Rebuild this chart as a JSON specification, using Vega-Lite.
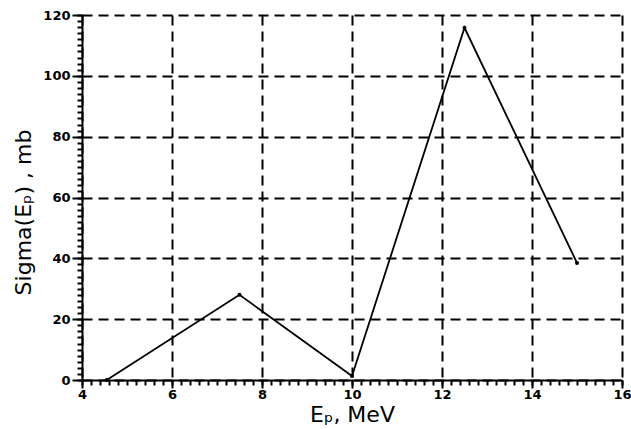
{
  "$schema": "https://vega.github.io/schema/vega-lite/v6.json",
  "width": 540,
  "height": 365,
  "autosize": {"type": "none"},
  "padding": {"left": 82, "top": 15, "right": 9, "bottom": 49},
  "background": "white",
  "config": {
    "view": {"stroke": null},
    "axis": {
      "labelFont": "DejaVu Sans",
      "labelFontWeight": "bold",
      "labelFontSize": 13,
      "labelColor": "black",
      "titleFont": "DejaVu Sans",
      "titleFontWeight": "normal",
      "titleFontSize": 22,
      "titleColor": "black",
      "domainColor": "black",
      "tickColor": "black",
      "gridColor": "black"
    }
  },
  "data": {
    "values": [
      {"E": 4.55, "sigma": 0},
      {"E": 7.5, "sigma": 28},
      {"E": 10, "sigma": 1.3},
      {"E": 12.5, "sigma": 115.8},
      {"E": 15, "sigma": 38.5}
    ]
  },
  "resolve": {"axis": {"x": "independent", "y": "independent"}},
  "layer": [
    {
      "mark": {"type": "line", "color": "black", "strokeWidth": 1.8},
      "encoding": {
        "x": {
          "field": "E", "type": "quantitative",
          "scale": {"domain": [4, 16], "nice": false, "zero": false},
          "axis": {
            "orient": "bottom",
            "values": [4, 6, 8, 10, 12, 14, 16],
            "title": "Eₚ, MeV",
            "titlePadding": 3,
            "tickSize": 8,
            "tickWidth": 2,
            "domainWidth": 2,
            "labelPadding": 0,
            "labelFlush": false,
            "labelOverlap": false,
            "grid": true,
            "gridDash": [10, 6],
            "gridWidth": 2
          }
        },
        "y": {
          "field": "sigma", "type": "quantitative",
          "scale": {"domain": [0, 120], "nice": false},
          "axis": {
            "orient": "left",
            "values": [0, 20, 40, 60, 80, 100, 120],
            "title": "Sigma(Eₚ) , mb",
            "titlePadding": 7,
            "titleY": 197,
            "tickSize": 10,
            "tickWidth": 2,
            "domainWidth": 2,
            "labelPadding": 2,
            "labelFlush": false,
            "labelOverlap": false,
            "grid": true,
            "gridDash": [10, 6],
            "gridWidth": 2
          }
        }
      }
    },
    {
      "mark": {"type": "point", "filled": true, "color": "black", "size": 16, "opacity": 1},
      "encoding": {
        "x": {
          "field": "E", "type": "quantitative",
          "axis": {
            "orient": "bottom",
            "values": [4, 4.2, 4.4, 4.6, 4.8, 5, 5.2, 5.4, 5.6, 5.8, 6, 6.2, 6.4, 6.6, 6.8, 7, 7.2, 7.4, 7.6, 7.8, 8, 8.2, 8.4, 8.6, 8.8, 9, 9.2, 9.4, 9.6, 9.8, 10, 10.2, 10.4, 10.6, 10.8, 11, 11.2, 11.4, 11.6, 11.8, 12, 12.2, 12.4, 12.6, 12.8, 13, 13.2, 13.4, 13.6, 13.8, 14, 14.2, 14.4, 14.6, 14.8, 15, 15.2, 15.4, 15.6, 15.8, 16],
            "labels": false,
            "domain": false,
            "grid": false,
            "title": null,
            "tickSize": 5,
            "tickWidth": 2
          }
        },
        "y": {
          "field": "sigma", "type": "quantitative",
          "axis": {
            "orient": "left",
            "values": [0, 2, 4, 6, 8, 10, 12, 14, 16, 18, 20, 22, 24, 26, 28, 30, 32, 34, 36, 38, 40, 42, 44, 46, 48, 50, 52, 54, 56, 58, 60, 62, 64, 66, 68, 70, 72, 74, 76, 78, 80, 82, 84, 86, 88, 90, 92, 94, 96, 98, 100, 102, 104, 106, 108, 110, 112, 114, 116, 118, 120],
            "labels": false,
            "domain": false,
            "grid": false,
            "title": null,
            "tickSize": 5,
            "tickWidth": 2
          }
        }
      }
    }
  ]
}
